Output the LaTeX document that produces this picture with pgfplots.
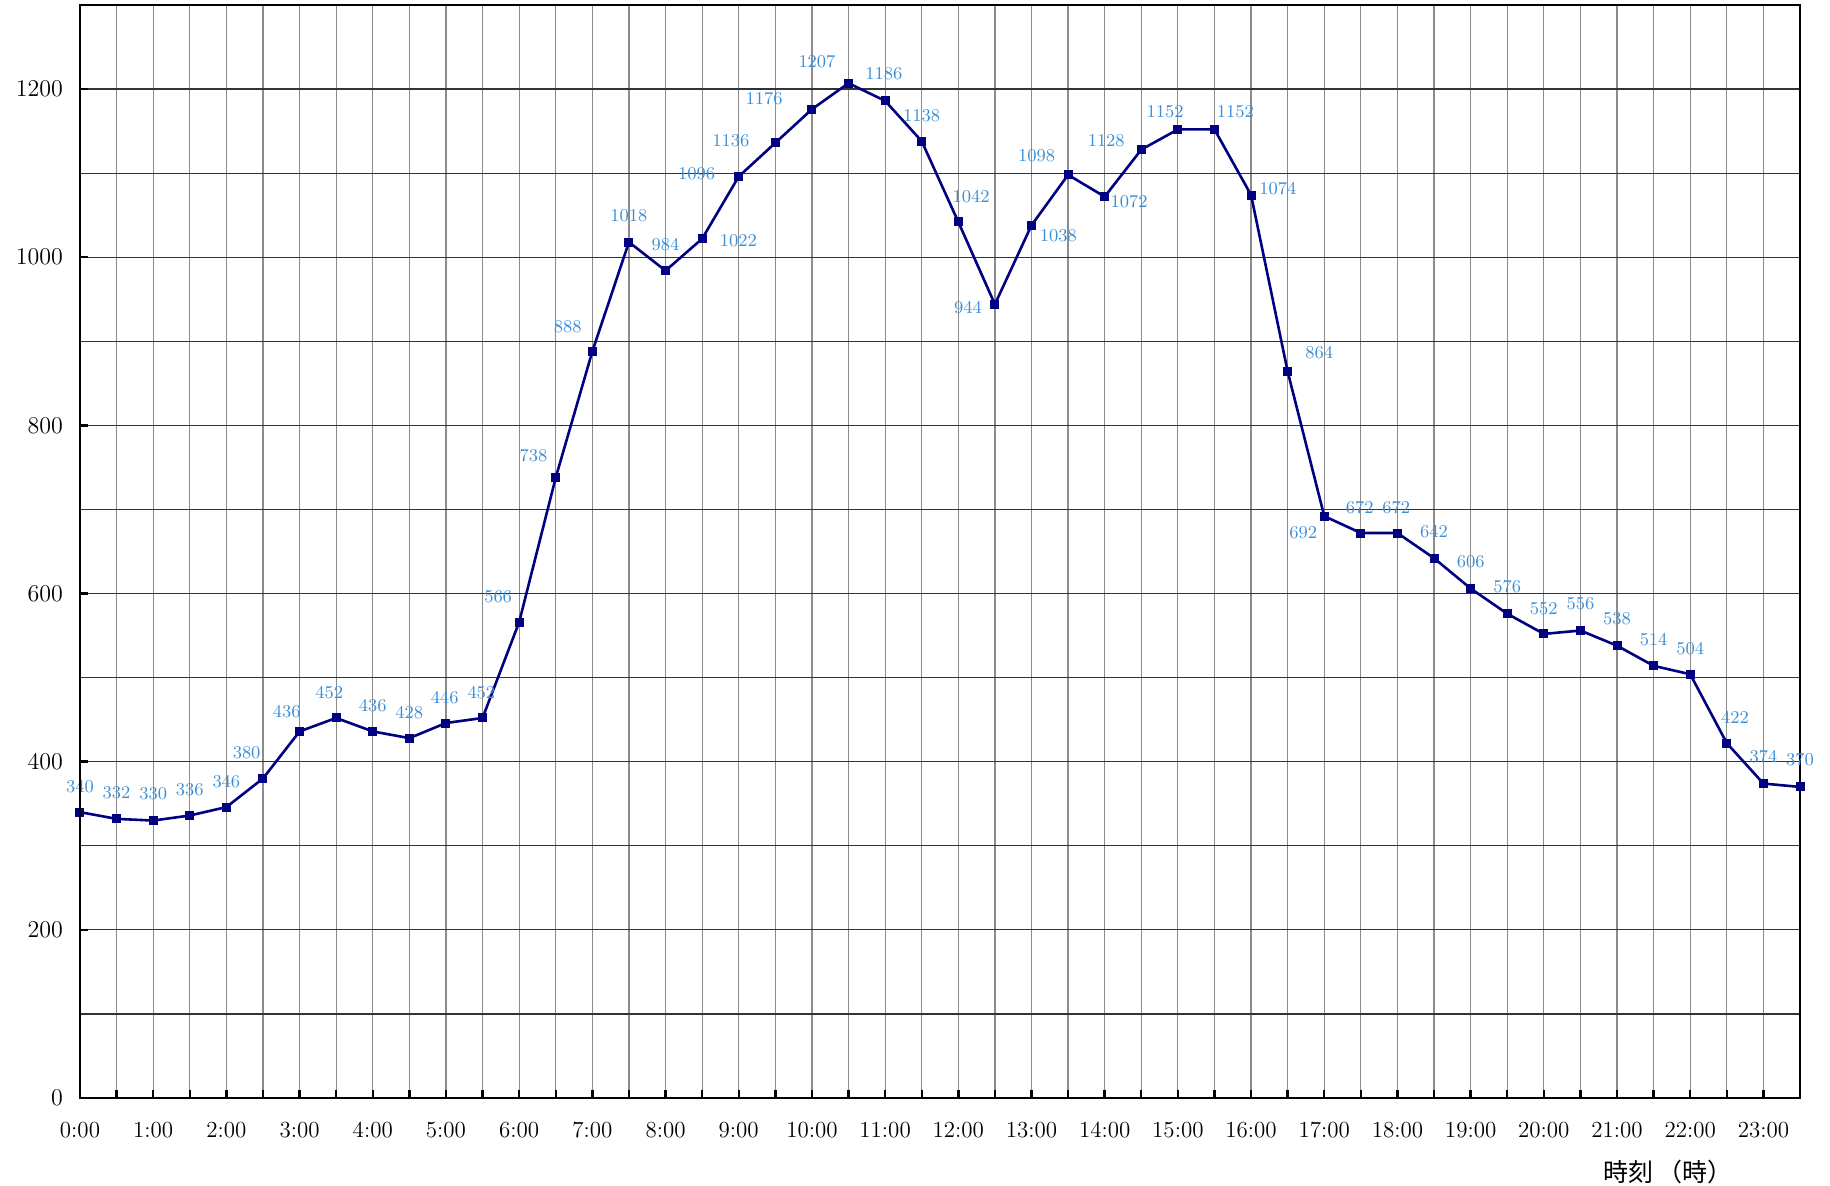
\documentclass[border=0pt]{standalone}
\usepackage{fontspec}
\usepackage{pgfplots}
\usepackage{pgfplotstable}
\pgfplotsset{compat=1.18}
\newfontfamily\cjk{Noto Sans CJK JP}
\definecolor{navyline}{HTML}{000080}
\definecolor{lblblue}{HTML}{3A8ED6}
\pgfplotstableread{
x y dx dy
0 340 0 22
0.5 332 0 22
1 330 0 23
1.5 336 0 22
2 346 0 22
2.5 380 -14 22
3 436 -11 17
3.5 452 -6 22
4 436 0 22
4.5 428 0 22
5 446 -1 22
5.5 452 -1 22
6 566 -18 22
6.5 738 -19 19
7 888 -21 21
7.5 1018 0 23
8 984 0 22
8.5 1022 31 -2
9 1096 -36 2
9.5 1136 -38 2
10 1176 -41 9
10.5 1207 -27 18
11 1186 -1 23
11.5 1138 0 22
12 1042 11 22
12.5 944 -23 -3
13 1038 23 -9
13.5 1098 -27 16
14 1072 21 -4
14.5 1128 -30 8
15 1152 -11 15
15.5 1152 18 15
16 1074 23 5
16.5 864 27 16
17 692 -18 -14
17.5 672 -1 22
18 672 -1 22
18.5 642 0 23
19 606 0 23
19.5 576 0 23
20 552 0 22
20.5 556 0 23
21 538 0 23
21.5 514 0 22
22 504 0 22
22.5 422 7 22
23 374 0 23
23.5 370 0 23
}\data
\begin{document}
\begin{tikzpicture}
\begin{axis}[
  scale only axis, width=860pt, height=546.5pt,
  xmin=0, xmax=23.5, ymin=0, ymax=1300,
  xtick={0,0.5,...,23.5},
  xticklabels={0:00,,1:00,,2:00,,3:00,,4:00,,5:00,,6:00,,7:00,,8:00,,9:00,,10:00,,11:00,,12:00,,13:00,,14:00,,15:00,,16:00,,17:00,,18:00,,19:00,,20:00,,21:00,,22:00,,23:00,},
  ytick={0,200,...,1200},
  minor ytick={100,300,...,1100},
  minor tick length=0pt,
  major tick length=4pt,
  tick align=inside,
  xtick pos=left, ytick pos=left,
  tick style={black, line width=1.2pt},
  grid=both,
  major x grid style={color=black!45, line width=0.6pt},
  major y grid style={color=black!80, line width=0.6pt},
  minor y grid style={color=black!80, line width=0.6pt},
  axis line style={line width=0.8pt},
  ticklabel style={font=\fontsize{11.5}{13}\selectfont},
  xticklabel style={yshift=-8.5pt},
  yticklabel style={xshift=-5pt},
  /pgf/number format/1000 sep={},
  xlabel={\cjk 時刻\,（時）},
  xlabel style={at={(axis description cs:0.923,-0.068)}, anchor=center, font=\fontsize{12.5}{14}\selectfont},
  after end axis/.code={\draw[line width=1.3pt] (rel axis cs:0,1) -- (rel axis cs:0,0) -- (rel axis cs:1,0);},
]
\addplot[navyline, line width=1.3pt, mark=square*, mark size=1.6pt,
  nodes near coords,
  visualization depends on={\thisrow{dx}\as\dx},
  visualization depends on={\thisrow{dy}\as\dy},
  every node near coord/.append style={anchor=center, xshift={\dx*0.5835pt}, yshift={\dy*0.5835pt}, text=lblblue, font=\fontsize{9}{10}\selectfont, inner sep=0pt}]
  table[x=x,y=y] {\data};
\end{axis}
\pgfresetboundingbox
\path[use as bounding box] ([xshift=-40pt,yshift=-43.5pt]current axis.south west) rectangle ([xshift=15pt,yshift=2.5pt]current axis.north east);
\end{tikzpicture}
\end{document}
